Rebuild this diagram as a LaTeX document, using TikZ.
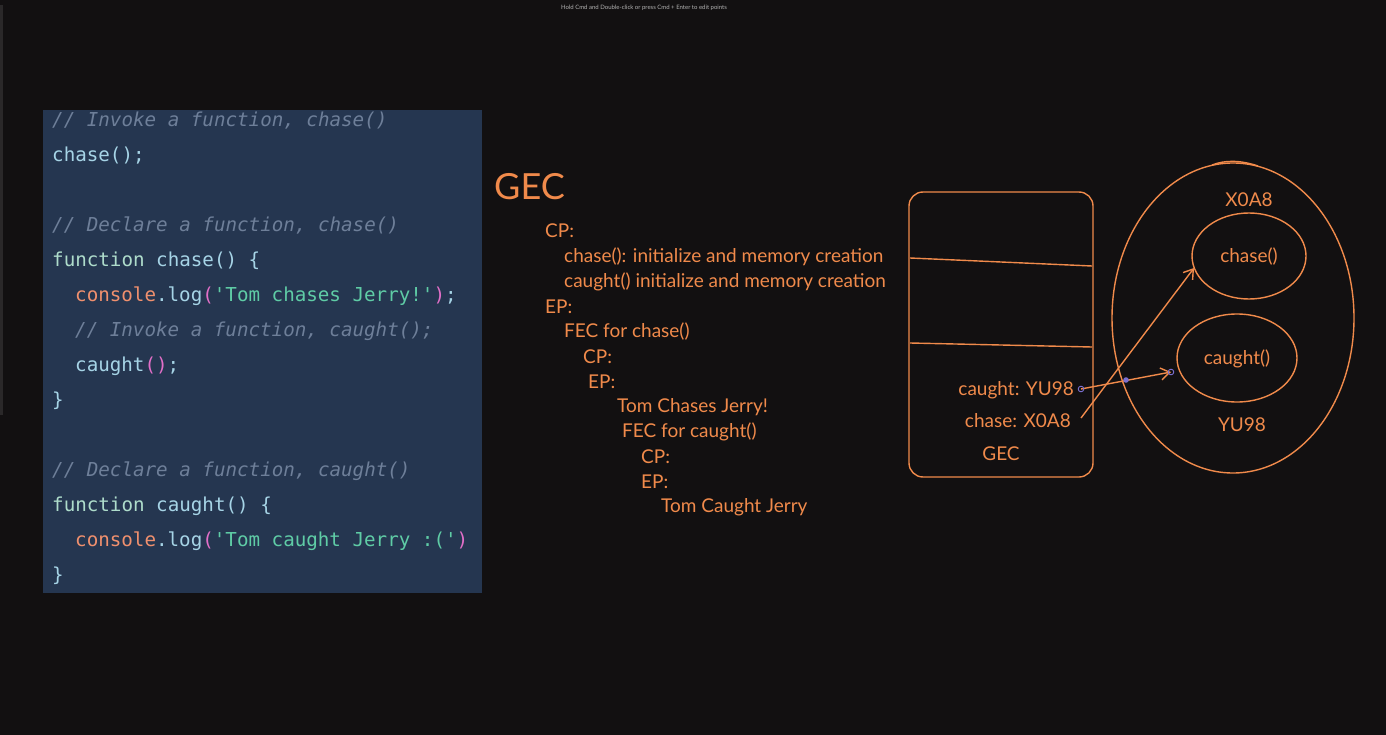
\documentclass[tikz,border=0pt]{standalone}
\usepackage{fontspec}
\setmainfont{Lato}
\newfontfamily\codefont{DejaVu Sans Mono}
\usetikzlibrary{arrows.meta}
\definecolor{bgc}{HTML}{121011}
\definecolor{panel}{HTML}{253650}
\definecolor{cmt}{HTML}{6E7F99}
\definecolor{ident}{HTML}{A6D4E6}
\definecolor{kw}{HTML}{AEDCCB}
\definecolor{cons}{HTML}{F0906E}
\definecolor{pink}{HTML}{E26FC8}
\definecolor{str}{HTML}{5FCCA6}
\definecolor{org}{HTML}{F08A4B}
\definecolor{handle}{HTML}{7A6FD0}
\definecolor{sidebar}{HTML}{2A2829}
\begin{document}
\begin{tikzpicture}[x=1pt,y=-1pt,
  code/.style={anchor=west,inner sep=0pt,font=\codefont\fontsize{19.2}{23}\selectfont,text=ident},
  cmtline/.style={code,text=cmt,font=\codefont\itshape\fontsize{19.2}{23}\selectfont},
  note/.style={anchor=west,inner sep=0pt,text=org,font=\fontsize{19}{23}\selectfont},
  lbl/.style={inner sep=0pt,text=org,font=\fontsize{19}{23}\selectfont},
  sk/.style={draw=org,line width=1.4pt},
  arr/.style={sk,-{Straight Barb[length=9pt,width=12pt]}}]
\useasboundingbox (0,0) rectangle (1386,735);
\fill[bgc] (0,0) rectangle (1386,735);
\fill[sidebar] (0,5) rectangle (3,415);
\node[inner sep=0pt,text=gray!60,font=\fontsize{6}{7}\selectfont] (hint) at (644,8) {Hold Cmd and Double-click or press Cmd + Enter to edit points};
% code panel
\fill[panel] (43,110) rectangle (482,593);
\node[cmtline] (c1) at (52,121) {// Invoke a function, chase()};
\node[code] (c2) at (52,156) {chase();};
\node[cmtline] (c3) at (52,226) {// Declare a function, chase()};
\node[code] (c4) at (52,261) {\textcolor{kw}{function} chase() \{};
\node[code] (c5) at (75,296) {\textcolor{cons}{console}.log\textcolor{pink}{(}\textcolor{str}{'Tom chases Jerry!'}\textcolor{pink}{)};};
\node[cmtline] (c6) at (75,331) {// Invoke a function, caught();};
\node[code] (c7) at (75,366) {caught\textcolor{pink}{()};};
\node[code] (c8) at (52,401) {\}};
\node[cmtline] (c9) at (52,471) {// Declare a function, caught()};
\node[code] (c10) at (52,506) {\textcolor{kw}{function} caught() \{};
\node[code] (c11) at (75,541) {\textcolor{cons}{console}.log\textcolor{pink}{(}\textcolor{str}{'Tom caught Jerry :('}\textcolor{pink}{)}};
\node[code] (c12) at (52,576) {\}};
% notes
\node[anchor=west,inner sep=0pt,text=org,font=\fontsize{36}{40}\selectfont] (gec) at (494,187) {GEC};
\node[note] (n1) at (545,231) {CP:};
\node[note] (n2) at (564,257) {chase(): initialize and memory creation};
\node[note] (n3) at (564,282) {caught() initialize and memory creation};
\node[note] (n4) at (545,307) {EP:};
\node[note] (n5) at (564,332) {FEC for chase()};
\node[note] (n6) at (583,357) {CP:};
\node[note] (n7) at (588,382) {EP:};
\node[note] (n8) at (617,407) {Tom Chases Jerry!};
\node[note] (n9) at (622,432) {FEC for caught()};
\node[note] (n10) at (641,457) {CP:};
\node[note] (n11) at (641,482) {EP:};
\node[note] (n12) at (661,507) {Tom Caught Jerry};
% stack box
\draw[sk,rounded corners=14pt] (909,192) rectangle (1093,477);
\draw[sk] (910,258) -- (1092,266);
\draw[sk] (910,343) -- (1092,347);
\node[lbl,anchor=east] (caughtv) at (1074,390) {caught: YU98};
\node[lbl,anchor=east] (chasev) at (1071,421) {chase: X0A8};
\node[lbl] (gecl) at (1001,454) {GEC};
% heap
\draw[sk] (1233,318) ellipse [x radius=121, y radius=155];
\draw[sk] (1212,165) .. controls (1225,160) and (1240,160) .. (1258,166);
\node[lbl] (xoa8) at (1249,200) {X0A8};
\draw[sk] (1249,256) ellipse [x radius=57, y radius=43];
\node[lbl] (chasef) at (1249,257) {chase()};
\draw[sk] (1237,358) ellipse [x radius=60, y radius=44];
\node[lbl] (caughtf) at (1237,359) {caught()};
\node[lbl] (yu98) at (1242,425) {YU98};
% arrows
\coordinate (s1) at (1081,418);
\coordinate (e1) at (1194,268);
\draw[arr] (s1) -- (e1);
\coordinate (s2) at (1081,389);
\coordinate (e2) at (1171,372);
\draw[arr] (s2) -- (e2);
\draw[handle,line width=0.9pt] (s2) circle (2.8);
\draw[handle,line width=0.9pt] (e2) circle (2.8);
\fill[handle] (1126,380) circle (2.8);
\end{tikzpicture}
\end{document}
